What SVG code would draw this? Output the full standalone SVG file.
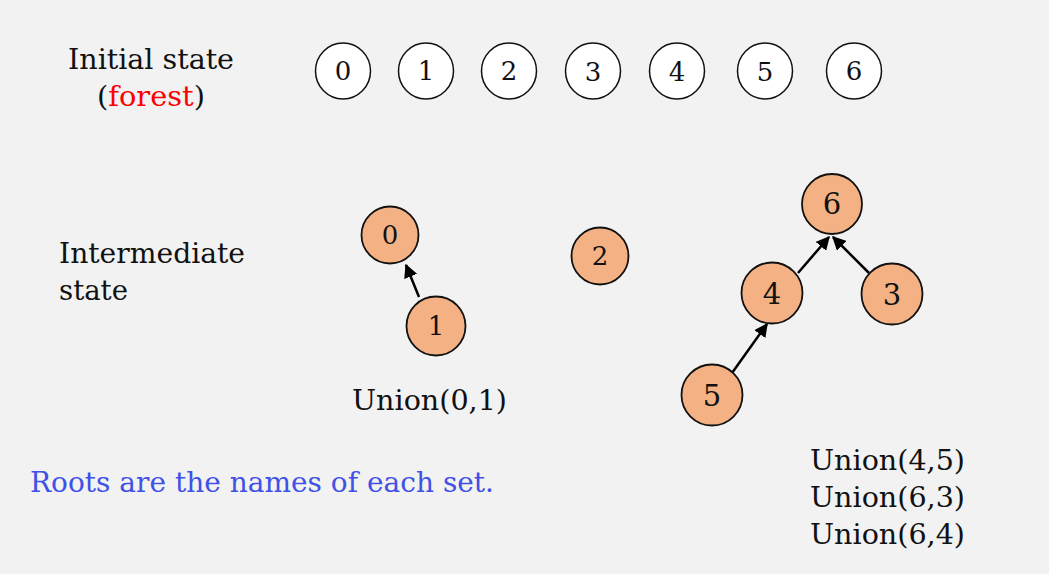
<svg xmlns="http://www.w3.org/2000/svg" width="1049" height="574" viewBox="0 0 1049 574">
<defs>
<marker id="ah" viewBox="0 0 10 10" refX="9" refY="5" markerWidth="5.5" markerHeight="5.5" orient="auto" markerUnits="strokeWidth">
<path d="M0,0 L10,5 L0,10 z" fill="#000"/>
</marker>
<style>
.t{font-family:"DejaVu Serif","Liberation Serif",serif;fill:#111;}
.lbl{font-size:27px;}
.w{fill:#fff;stroke:#111;stroke-width:1.5;}
.o{fill:#F4B183;stroke:#111;stroke-width:1.8;}
.d{font-family:"DejaVu Serif","Liberation Serif",serif;fill:#111;font-size:26px;text-anchor:middle;}
.b{font-size:29px;}
.e{stroke:#000;stroke-width:2.5;fill:none;marker-end:url(#ah);}
</style>
</defs>
<rect width="1049" height="574" fill="#F2F2F2"/>
<text class="t lbl" x="68" y="69" textLength="166" lengthAdjust="spacingAndGlyphs">Initial state</text>
<text class="t lbl" x="97" y="106" textLength="108" lengthAdjust="spacingAndGlyphs">(<tspan fill="#FF0000">forest</tspan>)</text>
<g id="top0"><ellipse class="w" cx="343" cy="71" rx="27.5" ry="28"/><text class="d" x="343" y="80">0</text></g>
<g id="top1"><ellipse class="w" cx="426" cy="71" rx="27.5" ry="28"/><text class="d" x="426" y="80">1</text></g>
<g id="top2"><ellipse class="w" cx="509" cy="71" rx="27.5" ry="28"/><text class="d" x="509" y="80">2</text></g>
<g id="top3"><ellipse class="w" cx="593" cy="71" rx="27.5" ry="28"/><text class="d" x="593" y="81">3</text></g>
<g id="top4"><ellipse class="w" cx="677" cy="71" rx="27.5" ry="28"/><text class="d" x="677" y="81">4</text></g>
<g id="top5"><ellipse class="w" cx="765" cy="71" rx="27.5" ry="28"/><text class="d" x="765" y="81">5</text></g>
<g id="top6"><ellipse class="w" cx="854" cy="71" rx="27.5" ry="28"/><text class="d" x="854" y="80">6</text></g>
<text class="t lbl" x="59" y="263" textLength="186" lengthAdjust="spacingAndGlyphs">Intermediate</text>
<text class="t lbl" x="59" y="300" textLength="69" lengthAdjust="spacingAndGlyphs">state</text>
<g id="connectors">
<line class="e" x1="419" y1="297" x2="406" y2="265"/>
<line class="e" x1="798" y1="273" x2="829" y2="237"/>
<line class="e" x1="869" y1="273" x2="833" y2="237"/>
<line class="e" x1="732" y1="373" x2="767" y2="324"/>
</g>
<g id="n0"><circle class="o" cx="390" cy="235" r="28.5"/><text class="d" x="390" y="244">0</text></g>
<g id="n1"><circle class="o" cx="436" cy="326" r="29.5"/><text class="d" x="436" y="335">1</text></g>
<g id="n2"><circle class="o" cx="600" cy="256" r="28.5"/><text class="d" x="600" y="265">2</text></g>
<g id="n6"><circle class="o" cx="832" cy="204" r="30"/><text class="d b" x="832" y="214">6</text></g>
<g id="n4"><circle class="o" cx="772" cy="293" r="30.5"/><text class="d b" x="772" y="304">4</text></g>
<g id="n3"><circle class="o" cx="892" cy="294" r="30.5"/><text class="d b" x="892" y="305">3</text></g>
<g id="n5"><circle class="o" cx="712" cy="395" r="30.5"/><text class="d b" x="712" y="406">5</text></g>
<text class="t lbl" x="352" y="410" textLength="155" lengthAdjust="spacingAndGlyphs">Union(0,1)</text>
<text class="t lbl" x="30" y="492" textLength="464" lengthAdjust="spacingAndGlyphs" style="fill:#3F51E6">Roots are the names of each set.</text>
<text class="t lbl" x="810" y="470" textLength="155" lengthAdjust="spacingAndGlyphs">Union(4,5)</text>
<text class="t lbl" x="810" y="507" textLength="155" lengthAdjust="spacingAndGlyphs">Union(6,3)</text>
<text class="t lbl" x="810" y="544" textLength="155" lengthAdjust="spacingAndGlyphs">Union(6,4)</text>
</svg>
